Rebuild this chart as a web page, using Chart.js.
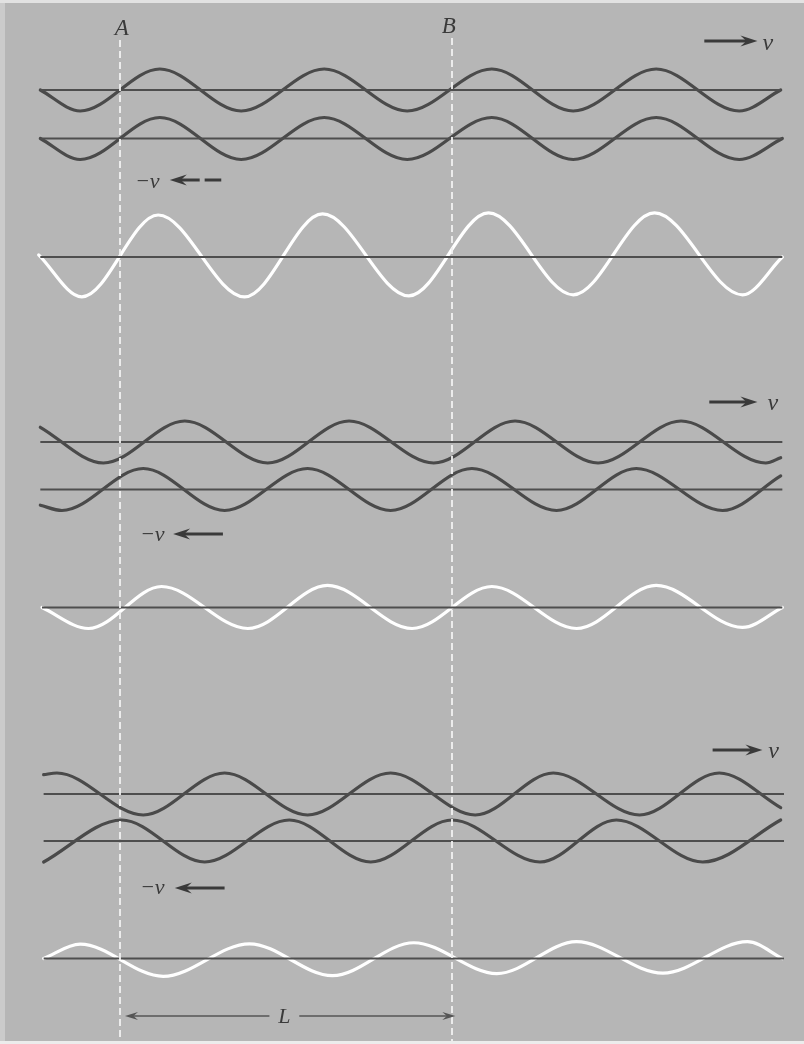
<!DOCTYPE html>
<html>
<head>
<meta charset="utf-8">
<script src="https://cdn.jsdelivr.net/npm/chart.js@4.4.0/dist/chart.umd.min.js"></script>
<style>
html,body{margin:0;padding:0;background:#b6b6b6;overflow:hidden}
canvas{display:block}
</style>
</head>
<body>
<canvas id="c" width="804" height="1044"></canvas>
<script>
// ---------- DATA ----------
// x in wavelengths measured from node A; y in units of one travelling-wave amplitude.
// Each wave is given by its crests/troughs (plus the two end points).
// Panel 1 : waves in phase
const p1RightX = [-0.48,-0.24,0.24,0.73,1.23,1.73,2.24,2.73,3.23,3.73,3.98];
const p1RightY = [0,-1,1,-1,1,-1,1,-1,1,-1,0];
const p1LeftX  = [-0.48,-0.24,0.24,0.73,1.23,1.73,2.24,2.73,3.23,3.73,3.99];
const p1LeftY  = [0,-1,1,-1,1,-1,1,-1,1,-1,0];
const p1SumX   = [-0.49,-0.23,0.23,0.75,1.22,1.74,2.22,2.73,3.22,3.75,3.99];
const p1SumY   = [0.1,-1.9,2.0,-1.9,2.05,-1.85,2.1,-1.8,2.1,-1.8,0];
// Panel 2 : waves shifted a little
const p2RightX = [-0.48,-0.10,0.39,0.89,1.38,1.89,2.38,2.88,3.38,3.89,3.98];
const p2RightY = [0.7,-1,1,-1,1,-1,1,-1,1,-1,-0.75];
const p2LeftX  = [-0.48,-0.35,0.14,0.63,1.13,1.63,2.12,2.63,3.11,3.63,3.98];
const p2LeftY  = [-0.75,-1,1,-1,1,-1,1,-1,1,-1,0.65];
const p2SumX   = [-0.47,-0.19,0.25,0.77,1.25,1.76,2.24,2.75,3.23,3.75,3.99];
const p2SumY   = [0,-1,1,-1,1.05,-1,1,-1,1.05,-0.95,0];
// Panel 3 : waves shifted further
const p3RightX = [-0.46,-0.38,0.14,0.63,1.13,1.63,2.14,2.61,3.13,3.61,3.98];
const p3RightY = [0.92,1,-1,1,-1,1,-1,1,-1,1,-0.65];
const p3LeftX  = [-0.46,0.01,0.51,1.02,1.51,2.0,2.53,2.99,3.51,3.98];
const p3LeftY  = [-1,1,-1,1,-1,1,-1,1,-1,1];
const p3SumX   = [-0.46,-0.24,0.26,0.78,1.28,1.77,2.27,2.75,3.27,3.78,3.99];
const p3SumY   = [0,0.68,-0.85,0.7,-0.82,0.75,-0.72,0.8,-0.7,0.8,0];

// axis (equilibrium) line extents, in wavelengths
const axisStart = [-0.48,-0.48,-0.48,-0.48,-0.48,-0.47,-0.46,-0.46,-0.46];
const axisEnd   = [3.98,3.99,3.99,3.99,3.99,3.99,4.0,4.0,4.0];

// node positions A and B (wavelengths)
const nodeNames = ['A','B'];
const nodeX = [0, 2];

// text labels
const velLabel = 'v';
const negVelLabel = '\u2212v';
const lengthLabel = 'L';

// ---------- LAYOUT / STYLE ----------
const W = 804, H = 1044;
const PX_PER_LAMBDA = 166, A_PX = 120;
const X_MIN = -A_PX / PX_PER_LAMBDA, X_MAX = (W - A_PX) / PX_PER_LAMBDA;
const AMP_PX = 21;
const rowIds   = ['r0','r1','r2','r3','r4','r5','r6','r7','r8'];
const rowBase  = [90,138.5,257,442,489.5,607.5,794,841,958.5]; // page px of each row's axis
const DARK = '#4a4a4a', AXIS = '#4e4e4e', WHITE = '#ffffff', TEXT = '#3a3a3a';

const waves = [
  [p1RightX,p1RightY,0,DARK],[p1LeftX,p1LeftY,1,DARK],[p1SumX,p1SumY,2,WHITE],
  [p2RightX,p2RightY,3,DARK],[p2LeftX,p2LeftY,4,DARK],[p2SumX,p2SumY,5,WHITE],
  [p3RightX,p3RightY,6,DARK],[p3LeftX,p3LeftY,7,DARK],[p3SumX,p3SumY,8,WHITE]
];

const datasets = [];
// dashed node lines (top)
nodeX.forEach((nx,i)=>{
  datasets.push({data:[{x:nx,y:i===0?40:38},{x:nx,y:1041}], yAxisID:'page', showLine:true,
    borderColor:'#f2f2f2', borderWidth:1.8, borderDash:[7,4], pointRadius:0, order:0});
});
// equilibrium lines
rowIds.forEach((id,i)=>{
  datasets.push({data:[{x:axisStart[i],y:0},{x:axisEnd[i],y:0}], yAxisID:id, showLine:true,
    borderColor:AXIS, borderWidth:1.8, pointRadius:0, order:1});
});
// waves
waves.forEach(([xs,ys,row,col])=>{
  datasets.push({data:xs.map((x,k)=>({x:x,y:ys[k]})), yAxisID:rowIds[row], showLine:true,
    borderColor:col, borderWidth:3.2, pointRadius:0, cubicInterpolationMode:'monotone',
    borderCapStyle:'round', borderJoinStyle:'round', order:2});
});

const scales = {
  x:{type:'linear', min:X_MIN, max:X_MAX, display:false},
  page:{type:'linear', axis:'y', min:0, max:H, reverse:true, display:false}
};
rowIds.forEach((id,i)=>{
  scales[id] = {type:'linear', axis:'y', display:false, min:-(H-rowBase[i])/AMP_PX, max:rowBase[i]/AMP_PX};
});

// annotation layout (x in wavelengths, y in page px)
const nodeLabelY = [35, 33];
const nodeLabelDx = [0.01, -0.02];
const velArrowY = [41, 402, 750];
const velArrowFrom = [3.52, 3.55, 3.57];
const velArrowTo = [3.84, 3.84, 3.87];
const velTextX = [3.87, 3.90, 3.905];
const velTextY = [50, 410, 758];
const negArrowY = [180, 534, 888];
const negTextX = [0.09, 0.12, 0.12];
const negTextY = [188, 541, 894];
const negArrowTip = [0.30, 0.32, 0.33];
const negArrowTail = [0.61, 0.62, 0.63];
const negArrowGap = [[0.48,0.51], null, null];
const lenArrowY = 1016, lenTextX = 0.99, lenGap = [0.90, 1.08], lenFrom = 0.03, lenTo = 2.02;

function arrowHead(ctx, tipX, y, dir, len, hw, color){
  ctx.fillStyle = color;
  ctx.beginPath();
  ctx.moveTo(tipX, y);
  ctx.lineTo(tipX - dir*len, y - hw);
  ctx.lineTo(tipX - dir*len*0.65, y);
  ctx.lineTo(tipX - dir*len, y + hw);
  ctx.closePath();
  ctx.fill();
}

const decor = {
  id:'decor',
  beforeDraw(chart){
    const ctx = chart.ctx;
    ctx.save();
    ctx.fillStyle = '#b6b6b6';
    ctx.fillRect(0,0,W,H);
    ctx.fillStyle = '#cbcbcb';
    ctx.fillRect(0,0,5,H);
    ctx.fillStyle = '#e2e2e2';
    ctx.fillRect(0,0,W,3);
    ctx.fillStyle = '#ececec';
    ctx.fillRect(0,H-3,W,3);
    ctx.restore();
  },
  afterDatasetsDraw(chart){
    const ctx = chart.ctx;
    const X = v => chart.scales.x.getPixelForValue(v);
    const Y = v => chart.scales.page.getPixelForValue(v);
    ctx.save();
    ctx.fillStyle = TEXT;
    ctx.strokeStyle = TEXT;
    // node labels
    ctx.font = 'italic 23px "Liberation Serif", "DejaVu Serif", serif';
    ctx.textAlign = 'center';
    ctx.textBaseline = 'alphabetic';
    nodeNames.forEach((n,i)=> ctx.fillText(n, X(nodeX[i]+nodeLabelDx[i]), Y(nodeLabelY[i])));
    // +v arrows
    velArrowY.forEach((y,i)=>{
      const yy = Y(y), x1 = X(velArrowFrom[i]), x2 = X(velArrowTo[i]);
      ctx.lineWidth = 3.2;
      ctx.beginPath(); ctx.moveTo(x1, yy); ctx.lineTo(x2 - 10, yy); ctx.stroke();
      arrowHead(ctx, x2, yy, 1, 17, 5.5, TEXT);
      ctx.font = 'italic 24px "Liberation Serif", "DejaVu Serif", serif';
      ctx.textAlign = 'left';
      ctx.fillText(velLabel, X(velTextX[i]), Y(velTextY[i]));
    });
    // -v arrows
    negArrowY.forEach((y,i)=>{
      const yy = Y(y), tip = X(negArrowTip[i]), tail = X(negArrowTail[i]);
      ctx.lineWidth = 3.2;
      ctx.beginPath();
      const g = negArrowGap[i];
      if (g){
        ctx.moveTo(tip + 10, yy); ctx.lineTo(X(g[0]), yy);
        ctx.moveTo(X(g[1]), yy); ctx.lineTo(tail, yy);
      } else {
        ctx.moveTo(tip + 10, yy); ctx.lineTo(tail, yy);
      }
      ctx.stroke();
      arrowHead(ctx, tip, yy, -1, 17, 5.5, TEXT);
      ctx.font = 'italic 22px "Liberation Serif", "DejaVu Serif", serif';
      ctx.textAlign = 'left';
      ctx.fillText(negVelLabel, X(negTextX[i]), Y(negTextY[i]));
    });
    // L dimension arrow
    const ly = Y(lenArrowY);
    ctx.strokeStyle = '#555';
    ctx.lineWidth = 1.4;
    ctx.beginPath();
    ctx.moveTo(X(lenFrom) + 8, ly); ctx.lineTo(X(lenGap[0]), ly);
    ctx.moveTo(X(lenGap[1]), ly); ctx.lineTo(X(lenTo) - 8, ly);
    ctx.stroke();
    arrowHead(ctx, X(lenFrom), ly, -1, 13, 4, '#555');
    arrowHead(ctx, X(lenTo), ly, 1, 13, 4, '#555');
    ctx.fillStyle = TEXT;
    ctx.font = 'italic 22px "Liberation Serif", "DejaVu Serif", serif';
    ctx.textAlign = 'center';
    ctx.fillText(lengthLabel, X(lenTextX), ly + 7);
    ctx.restore();
  }
};

new Chart(document.getElementById('c'), {
  type:'scatter',
  data:{datasets},
  options:{
    responsive:false, animation:false, devicePixelRatio:1,
    layout:{padding:0},
    scales,
    plugins:{legend:{display:false}, tooltip:{enabled:false}},
    events:[]
  },
  plugins:[decor]
});
</script>
</body>
</html>
